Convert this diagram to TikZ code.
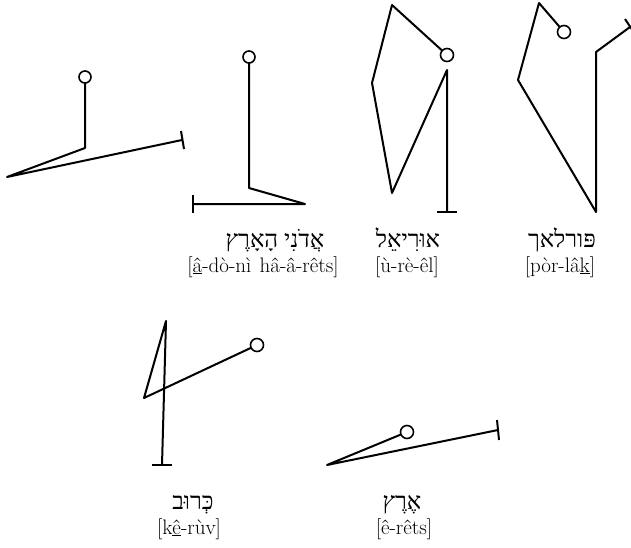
\documentclass[tikz,border=0pt]{standalone}
\usepackage{fontspec}
\newfontfamily\hebfont[Script=Hebrew]{Liberation Serif}
\TeXXeTstate=1
\begin{document}
\begin{tikzpicture}[x=1pt,y=-1pt,line join=round,
	stick/.style={line width=2pt},
	head/.style={line width=1.6pt,fill=white},
	heb/.style={font=\fontsize{24}{28}\selectfont\hebfont,inner sep=0pt,anchor=base},
	tr/.style={font=\fontsize{21}{25}\selectfont,inner sep=0pt,anchor=base}]
	\useasboundingbox (0,0) rectangle (631,548);
	% adoni ha-arets
	\draw[stick] (85,77)--(85,148)--(7,177)--(182,140);
	\draw[stick] (181,131)--(184,149);
	\draw[head] (85,77) circle[radius=6pt];
	\draw[stick] (249,57)--(249,188)--(305,204)--(193,204);
	\draw[stick] (193,195)--(193,213);
	\draw[head] (249,57) circle[radius=6pt];
	% uriel
	\draw[stick] (447,55)--(392,5)--(372,83)--(392,193)--(447,70)--(447,212);
	\draw[stick] (437,212)--(457,212);
	\draw[head] (447,55) circle[radius=6.5pt];
	% porlakh
	\draw[stick] (564,32)--(539,3)--(518,80)--(596,212)--(596,52)--(630,27);
	\draw[stick] (625,19)--(635,34);
	\draw[head] (564,32) circle[radius=6.5pt];
	% keruv
	\draw[stick] (257,345)--(144,398)--(166,321)--(162,465);
	\draw[stick] (152,465)--(172,465);
	\draw[head] (257,345) circle[radius=6.5pt];
	% erets
	\draw[stick] (407,432)--(327,465)--(498,430);
	\draw[stick] (497,420)--(499,440);
	\draw[head] (407,432) circle[radius=6.5pt];
	% labels
	\node[heb] (adoni) at (275,247) {\beginR אֲדֹנִי הָאָרֶץ\endR};
	\node[tr] (adoniT) at (263,272) {[\underline{â}-dò-nì\hspace{.4em}hâ-â-rêts]};
	\node[heb] (uriel) at (408,247) {\beginR אוּרִיאֵל\endR};
	\node[tr] (urielT) at (407,272) {[ù-rè-êl]};
	\node[heb] (porlakh) at (562,247) {\beginR פּורלאך\endR};
	\node[tr] (porlakhT) at (560,272) {[pòr-lâ\underline{k}]};
	\node[heb] (keruv) at (193,509) {\beginR כְּרוּב\endR};
	\node[tr] (keruvT) at (189,534) {[k\underline{ê}-rùv]};
	\node[heb] (erets) at (402,509) {\beginR אֶרֶץ\endR};
	\node[tr] (eretsT) at (404,534) {[ê-rêts]};
\end{tikzpicture}
\end{document}
